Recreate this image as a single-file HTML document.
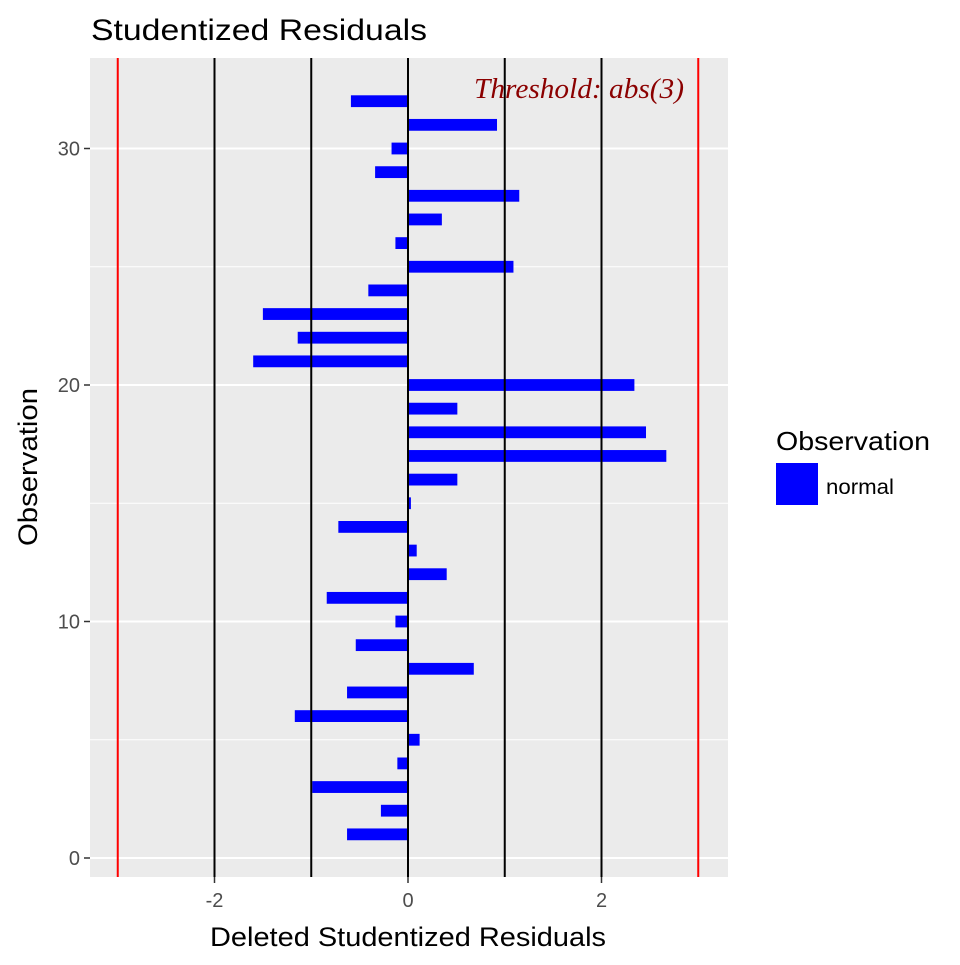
<!DOCTYPE html>
<html><head><meta charset="utf-8"><style>
body{margin:0;background:#fff;font-family:"Liberation Sans",Arial,sans-serif}
</style></head><body>
<svg id="chart" width="960" height="960" viewBox="0 0 960 960" xmlns="http://www.w3.org/2000/svg">
<rect width="960" height="960" fill="#fff"/>
<text x="91" y="40" font-size="30" textLength="336" lengthAdjust="spacingAndGlyphs" fill="#000">Studentized Residuals</text>
<rect x="90" y="58" width="638" height="819" fill="#ebebeb"/>
<g id="grid"></g>
<g id="bars"></g>
<g id="vlines"></g>
<text x="474" y="98" font-size="28" textLength="210" lengthAdjust="spacingAndGlyphs" font-style="italic" fill="#8b0000" font-family="Liberation Serif,serif">Threshold: abs(3)</text>
<g id="axes"></g>
<text x="210" y="946" font-size="27" textLength="396" lengthAdjust="spacingAndGlyphs">Deleted Studentized Residuals</text>
<text transform="translate(37,546) rotate(-90)" font-size="27" textLength="158" lengthAdjust="spacingAndGlyphs">Observation</text>
<g>
<text x="776" y="450" font-size="26" textLength="154" lengthAdjust="spacingAndGlyphs">Observation</text>
<rect x="776" y="463" width="42" height="42" fill="#0000ff"/>
<text x="826" y="494" font-size="21" textLength="68" lengthAdjust="spacingAndGlyphs">normal</text>
</g>
</svg>
<script>
const observations=[1,2,3,4,5,6,7,8,9,10,11,12,13,14,15,16,17,18,19,20,21,22,23,24,25,26,27,28,29,30,31,32];
const residuals=[-0.63,-0.28,-0.99,-0.11,0.12,-1.17,-0.63,0.68,-0.54,-0.13,-0.84,0.40,0.09,-0.72,0.03,0.51,2.67,2.46,0.51,2.34,-1.60,-1.14,-1.50,-0.41,1.09,-0.13,0.35,1.15,-0.34,-0.17,0.92,-0.59];
const xTicks=[-2,0,2];
const yTicks=[0,10,20,30];
const yMinor=[5,15,25];
const refLines=[-2,-1,0,1,2];
const thresholds=[-3,3];
const NS="http://www.w3.org/2000/svg";
const xs=v=>408+v*96.75;
const ys=v=>858-v*23.65;
function mk(tag,attrs,parent,txt){const e=document.createElementNS(NS,tag);for(const k in attrs)e.setAttribute(k,attrs[k]);if(txt!==undefined)e.textContent=txt;document.getElementById(parent).appendChild(e);return e;}
yMinor.forEach(t=>{const l=mk('line',{x1:90,x2:728,y1:ys(t),y2:ys(t),stroke:'#fff','stroke-width':1},'grid');

});
yTicks.forEach(t=>{const l=mk('line',{x1:90,x2:728,y1:ys(t),y2:ys(t),stroke:'#fff','stroke-width':2},'grid');


const k=mk('line',{x1:84,x2:90,y1:ys(t),y2:ys(t),stroke:'#333','stroke-width':1.5},'axes');


const tx=mk('text',{x:80,y:ys(t)+7,'font-size':20,fill:'#4d4d4d','text-anchor':'end'},'axes',String(t));

});
xTicks.forEach(t=>{const l=mk('line',{x1:xs(t),x2:xs(t),y1:58,y2:877,stroke:'#fff','stroke-width':2},'grid');


const k=mk('line',{x1:xs(t),x2:xs(t),y1:877,y2:883,stroke:'#333','stroke-width':1.5},'axes');


const tx=mk('text',{x:xs(t),y:907,'font-size':20,fill:'#4d4d4d','text-anchor':'middle'},'axes',String(t));

});
observations.forEach((o,i)=>{const v=residuals[i];const x0=Math.min(xs(0),xs(v));const w=Math.abs(xs(v)-xs(0));
const r=mk('rect',{x:x0,y:ys(o)-5.9,width:Math.max(w,1),height:11.8,fill:'#0000ff'},'bars');

});
refLines.forEach(v=>{const l=mk('line',{x1:xs(v),x2:xs(v),y1:58,y2:877,stroke:'#000','stroke-width':2},'vlines');

});
thresholds.forEach(v=>{const l=mk('line',{x1:xs(v),x2:xs(v),y1:58,y2:877,stroke:'#ff0000','stroke-width':2},'vlines');

});
</script>
</body></html>
